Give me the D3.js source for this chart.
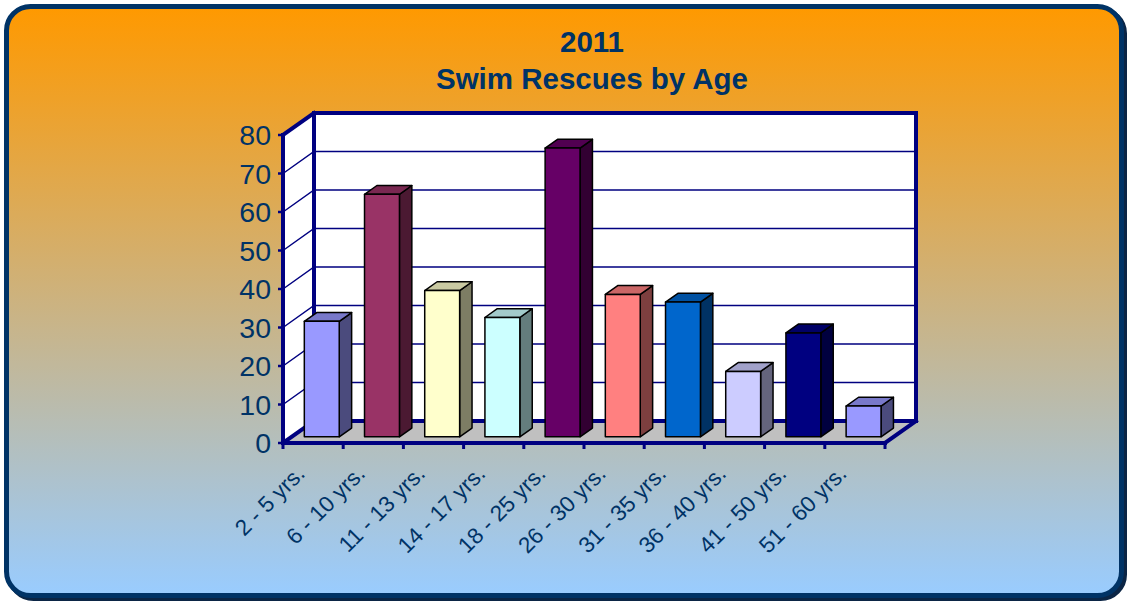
<!DOCTYPE html>
<html>
<head>
<meta charset="utf-8">
<script src="https://cdn.jsdelivr.net/npm/d3@7"></script>
<style>
  html, body { margin: 0; padding: 0; background: #ffffff; }
  svg { display: block; }
</style>
</head>
<body>
<div id="chart"></div>
<script>
const categories = ['2 - 5 yrs.', '6 - 10 yrs.', '11 - 13 yrs.', '14 - 17 yrs.', '18 - 25 yrs.',
    '26 - 30 yrs.', '31 - 35 yrs.', '36 - 40 yrs.', '41 - 50 yrs.', '51 - 60 yrs.']
const rescues = [30, 63, 38, 31, 75, 37, 35, 17, 27, 8]
const barColors = ['#9999FF', '#993366', '#FFFFCC', '#CCFFFF', '#660066',
    '#FF8080', '#0066CC', '#CCCCFF', '#000080', '#9999FF']
const yTicks = [0, 10, 20, 30, 40, 50, 60, 70, 80]
const titleLines = ['2011', 'Swim Rescues by Age']

const width = 1129, height = 605
const navy = '#000080', textColor = '#003366'
// front plane of the 3d box and the depth offset of the back wall
const plot = { left: 283, right: 885, bottom: 443, top: 135 }
const DX = 31, DY = 22
const barFront = 0.28, barBack = 0.68

const svg = d3.select('#chart').append('svg')
    .attr('width', width)
    .attr('height', height)

const defs = svg.append('defs')
const grad = defs.append('linearGradient')
    .attr('id', 'bg').attr('x1', 0).attr('y1', 0).attr('x2', 0).attr('y2', 1)
grad.append('stop').attr('offset', '0%').attr('stop-color', '#FF9900')
grad.append('stop').attr('offset', '100%').attr('stop-color', '#99CCFF')

// frame with a little shadow
svg.append('rect')
    .attr('x', 9.5).attr('y', 9.5).attr('width', 1115).attr('height', 589)
    .attr('rx', 24).attr('fill', 'none')
    .attr('stroke', '#0b2545').attr('stroke-width', 5)
svg.append('rect')
    .attr('x', 6.5).attr('y', 6.5).attr('width', 1115).attr('height', 589)
    .attr('rx', 24).attr('fill', 'url(#bg)')
    .attr('stroke', textColor).attr('stroke-width', 5)

svg.append('g').selectAll('text')
    .data(titleLines)
    .join('text')
    .attr('x', 592)
    .attr('y', (d, i) => 52 + i * 37)
    .attr('text-anchor', 'middle')
    .attr('font-family', 'Liberation Sans, Arial, sans-serif')
    .attr('font-weight', 'bold')
    .attr('font-size', '29.5px')
    .attr('fill', textColor)
    .text(d => d)

const x = d3.scaleBand()
    .domain(categories)
    .range([plot.left, plot.right])
    .padding(0)

const y = d3.scaleLinear()
    .domain([0, 80])
    .range([plot.bottom, plot.top])

// point on the box: px, py on the front plane, pushed back by depth (0..1)
const P = (px, py, depth) => [px + depth * DX, py - depth * DY]
const poly = pts => 'M' + pts.map(p => p.join(',')).join('L') + 'Z'

const box = svg.append('g')

// floor
box.append('path')
    .attr('d', poly([P(plot.left, y(0), 0), P(plot.right, y(0), 0), P(plot.right, y(0), 1), P(plot.left, y(0), 1)]))
    .attr('fill', '#C0C0C0')

// left wall and back wall
box.append('path')
    .attr('d', poly([P(plot.left, y(0), 0), P(plot.left, y(80), 0), P(plot.left, y(80), 1), P(plot.left, y(0), 1)]))
    .attr('fill', '#ffffff')
box.append('path')
    .attr('d', poly([P(plot.left, y(0), 1), P(plot.left, y(80), 1), P(plot.right, y(80), 1), P(plot.right, y(0), 1)]))
    .attr('fill', '#ffffff')

// gridlines
box.append('g').selectAll('path')
    .data(yTicks.filter(d => d > 0 && d < 80))
    .join('path')
    .attr('d', d => 'M' + P(plot.left, y(d), 0) + 'L' + P(plot.left, y(d), 1) + 'L' + P(plot.right, y(d), 1))
    .attr('fill', 'none')
    .attr('stroke', navy)
    .attr('stroke-width', 1.5)

// thick edges of the box
const edges = [
    [P(plot.left, y(0), 0), P(plot.left, y(80), 0)],
    [P(plot.left, y(80), 0), P(plot.left, y(80), 1)],
    [P(plot.left, y(0), 1), P(plot.left, y(80), 1)],
    [P(plot.left, y(80), 1), P(plot.right, y(80), 1)],
    [P(plot.right, y(80), 1), P(plot.right, y(0), 1)],
    [P(plot.left, y(0), 1), P(plot.right, y(0), 1)],
    [P(plot.left, y(0), 0), P(plot.left, y(0), 1)],
    [P(plot.right, y(0), 0), P(plot.right, y(0), 1)],
    [P(plot.left, y(0), 0), P(plot.right, y(0), 0)]
]
box.append('g').selectAll('path')
    .data(edges)
    .join('path')
    .attr('d', d => 'M' + d[0] + 'L' + d[1])
    .attr('stroke', navy)
    .attr('stroke-width', 4)
    .attr('stroke-linecap', 'square')

// ticks
box.append('g').selectAll('path')
    .data(yTicks)
    .join('path')
    .attr('d', d => `M${plot.left - 5},${y(d)}H${plot.left}`)
    .attr('stroke', navy).attr('stroke-width', 2.5)
box.append('g').selectAll('path')
    .data(categories.map(c => x(c)).concat([plot.right]))
    .join('path')
    .attr('d', d => `M${d},${y(0)}V${y(0) + 6}`)
    .attr('stroke', navy).attr('stroke-width', 3)

// bars
const bw = x.bandwidth() * 0.58
const bars = svg.append('g').selectAll('g')
    .data(rescues)
    .join('g')
bars.each(function (v, i) {
    const g = d3.select(this)
    const x0 = x(categories[i]) + (x.bandwidth() - bw) / 2, x1 = x0 + bw
    const c = d3.color(barColors[i])
    const front = [P(x0, y(0), barFront), P(x1, y(0), barFront), P(x1, y(v), barFront), P(x0, y(v), barFront)]
    const side = [P(x1, y(0), barFront), P(x1, y(0), barBack), P(x1, y(v), barBack), P(x1, y(v), barFront)]
    const top = [P(x0, y(v), barFront), P(x1, y(v), barFront), P(x1, y(v), barBack), P(x0, y(v), barBack)]
    const faces = [[side, c.darker(2)], [top, c.darker(0.65)], [front, c]]
    g.selectAll('path')
        .data(faces)
        .join('path')
        .attr('d', d => poly(d[0]))
        .attr('fill', d => d[1].formatHex())
        .attr('stroke', '#000000')
        .attr('stroke-width', 1.5)
        .attr('stroke-linejoin', 'round')
})

// y labels
svg.append('g').selectAll('text')
    .data(yTicks)
    .join('text')
    .attr('x', 271)
    .attr('y', d => y(d))
    .attr('dy', '0.36em')
    .attr('text-anchor', 'end')
    .attr('font-family', 'Liberation Sans, Arial, sans-serif')
    .attr('font-size', '28.5px')
    .attr('fill', textColor)
    .text(d => d)

// x labels
svg.append('g').selectAll('text')
    .data(categories)
    .join('text')
    .attr('transform', d => `translate(${x(d) + x.bandwidth() / 2 - 7},475) rotate(-45)`)
    .attr('text-anchor', 'end')
    .attr('font-family', 'Liberation Sans, Arial, sans-serif')
    .attr('font-size', '22.5px')
    .attr('fill', textColor)
    .text(d => d)
</script>
</body>
</html>
